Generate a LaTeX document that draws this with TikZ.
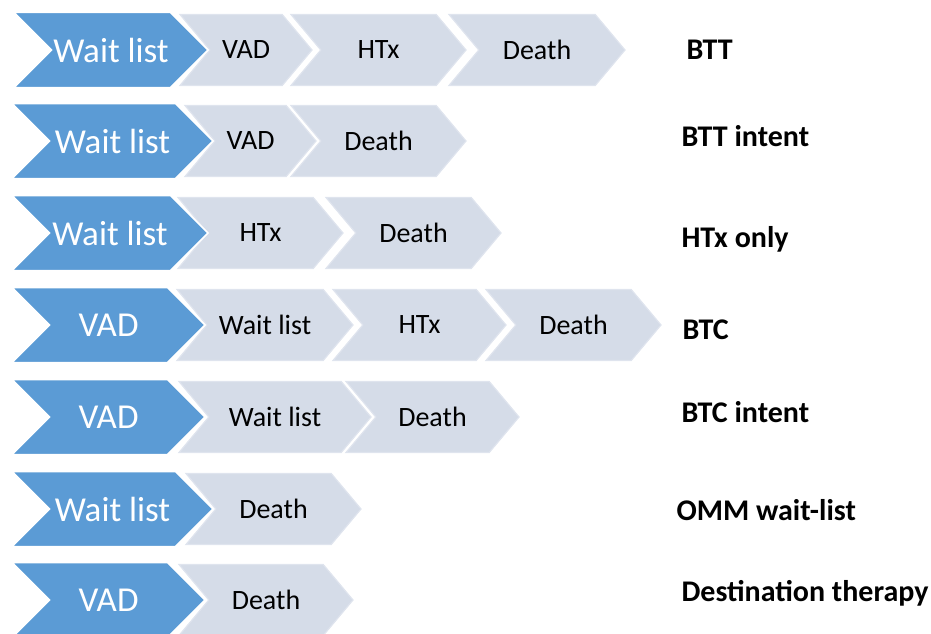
\documentclass[tikz,border=0pt]{standalone}
\usepackage{fontspec}
\setmainfont{Carlito}
\usepackage{tikz}
\usetikzlibrary{shapes.symbols,positioning}

\definecolor{vadblue}{HTML}{5B9BD5}
\definecolor{stepgray}{HTML}{D5DCE8}
\definecolor{stepedge}{HTML}{DFE4EE}

\begin{document}
\begin{tikzpicture}[x=1pt,y=-1pt,
  first/.style={signal,signal from=west,signal to=east,signal pointer angle=90,
                fill=vadblue,draw=white,line width=1.5pt,text=white,inner sep=0pt,
                minimum height=75,font=\fontsize{35}{35}\selectfont},
  stage/.style={signal,signal from=west,signal to=east,signal pointer angle=100,
                fill=stepgray,draw=stepedge,line width=1.2pt,text=black,inner sep=0pt,
                minimum height=71,font=\fontsize{28}{28}\selectfont},
  pathway/.style={anchor=base west,font=\bfseries\fontsize{30}{30}\selectfont}]

\useasboundingbox (0,0) rectangle (931,634);

%% ---------- (1) BTT ----------
\node[stage,minimum width=132](B2) at (246,50){VAD};
\node[stage,minimum width=175](B3) at (378.5,50){HTx};
\node[stage,minimum width=176](B4) at (537,50){Death};
\node[first,minimum width=194](B1) at (111,50){Wait list};
\node[pathway](Lbtt) at (683,59.5){BTT};

%% ---------- (2) BTT intent ----------
\node[stage,minimum width=131](C2) at (250.5,141){VAD};
\node[stage,minimum width=175](C3) at (378.5,141){Death};
\node[first,minimum width=201](C1) at (112.5,141){Wait list};
\node[pathway](Lbtti) at (678,146.5){BTT intent};

%% ---------- (3) HTx only ----------
\node[stage,minimum width=165](H2) at (260.5,233){HTx};
\node[stage,minimum width=175](H3) at (413.5,233){Death};
\node[first,minimum width=196](H1) at (110,233){Wait list};
\node[pathway](Lhtx) at (678,247.5){HTx only};

%% ---------- (4) BTC ----------
\node[stage,minimum width=176](D2) at (265,325){Wait list};
\node[stage,minimum width=173](D3) at (419.5,325){HTx};
\node[stage,minimum width=175](D4) at (573.5,325){Death};
\node[first,minimum width=193](D1) at (108.5,325){VAD};
\node[pathway](Lbtc) at (679,339.5){BTC};

%% ---------- (5) BTC intent ----------
\node[stage,minimum width=192](E2) at (275,417){Wait list};
\node[stage,minimum width=173](E3) at (432.5,417){Death};
\node[first,minimum width=193](E1) at (108.5,417){VAD};
\node[pathway](Lbtci) at (678,422.5){BTC intent};

%% ---------- (6) OMM wait-list ----------
\node[stage,minimum width=175](F2) at (273.5,509){Death};
\node[first,minimum width=201](F1) at (112.5,509){Wait list};
\node[pathway](Lomm) at (673,520.5){OMM wait-list};

%% ---------- (7) Destination therapy ----------
\node[stage,minimum width=174](G2) at (266,600){Death};
\node[first,minimum width=193](G1) at (108.5,600){VAD};
\node[pathway](Ldt) at (678,601.5){Destination therapy};

\end{tikzpicture}
\end{document}
